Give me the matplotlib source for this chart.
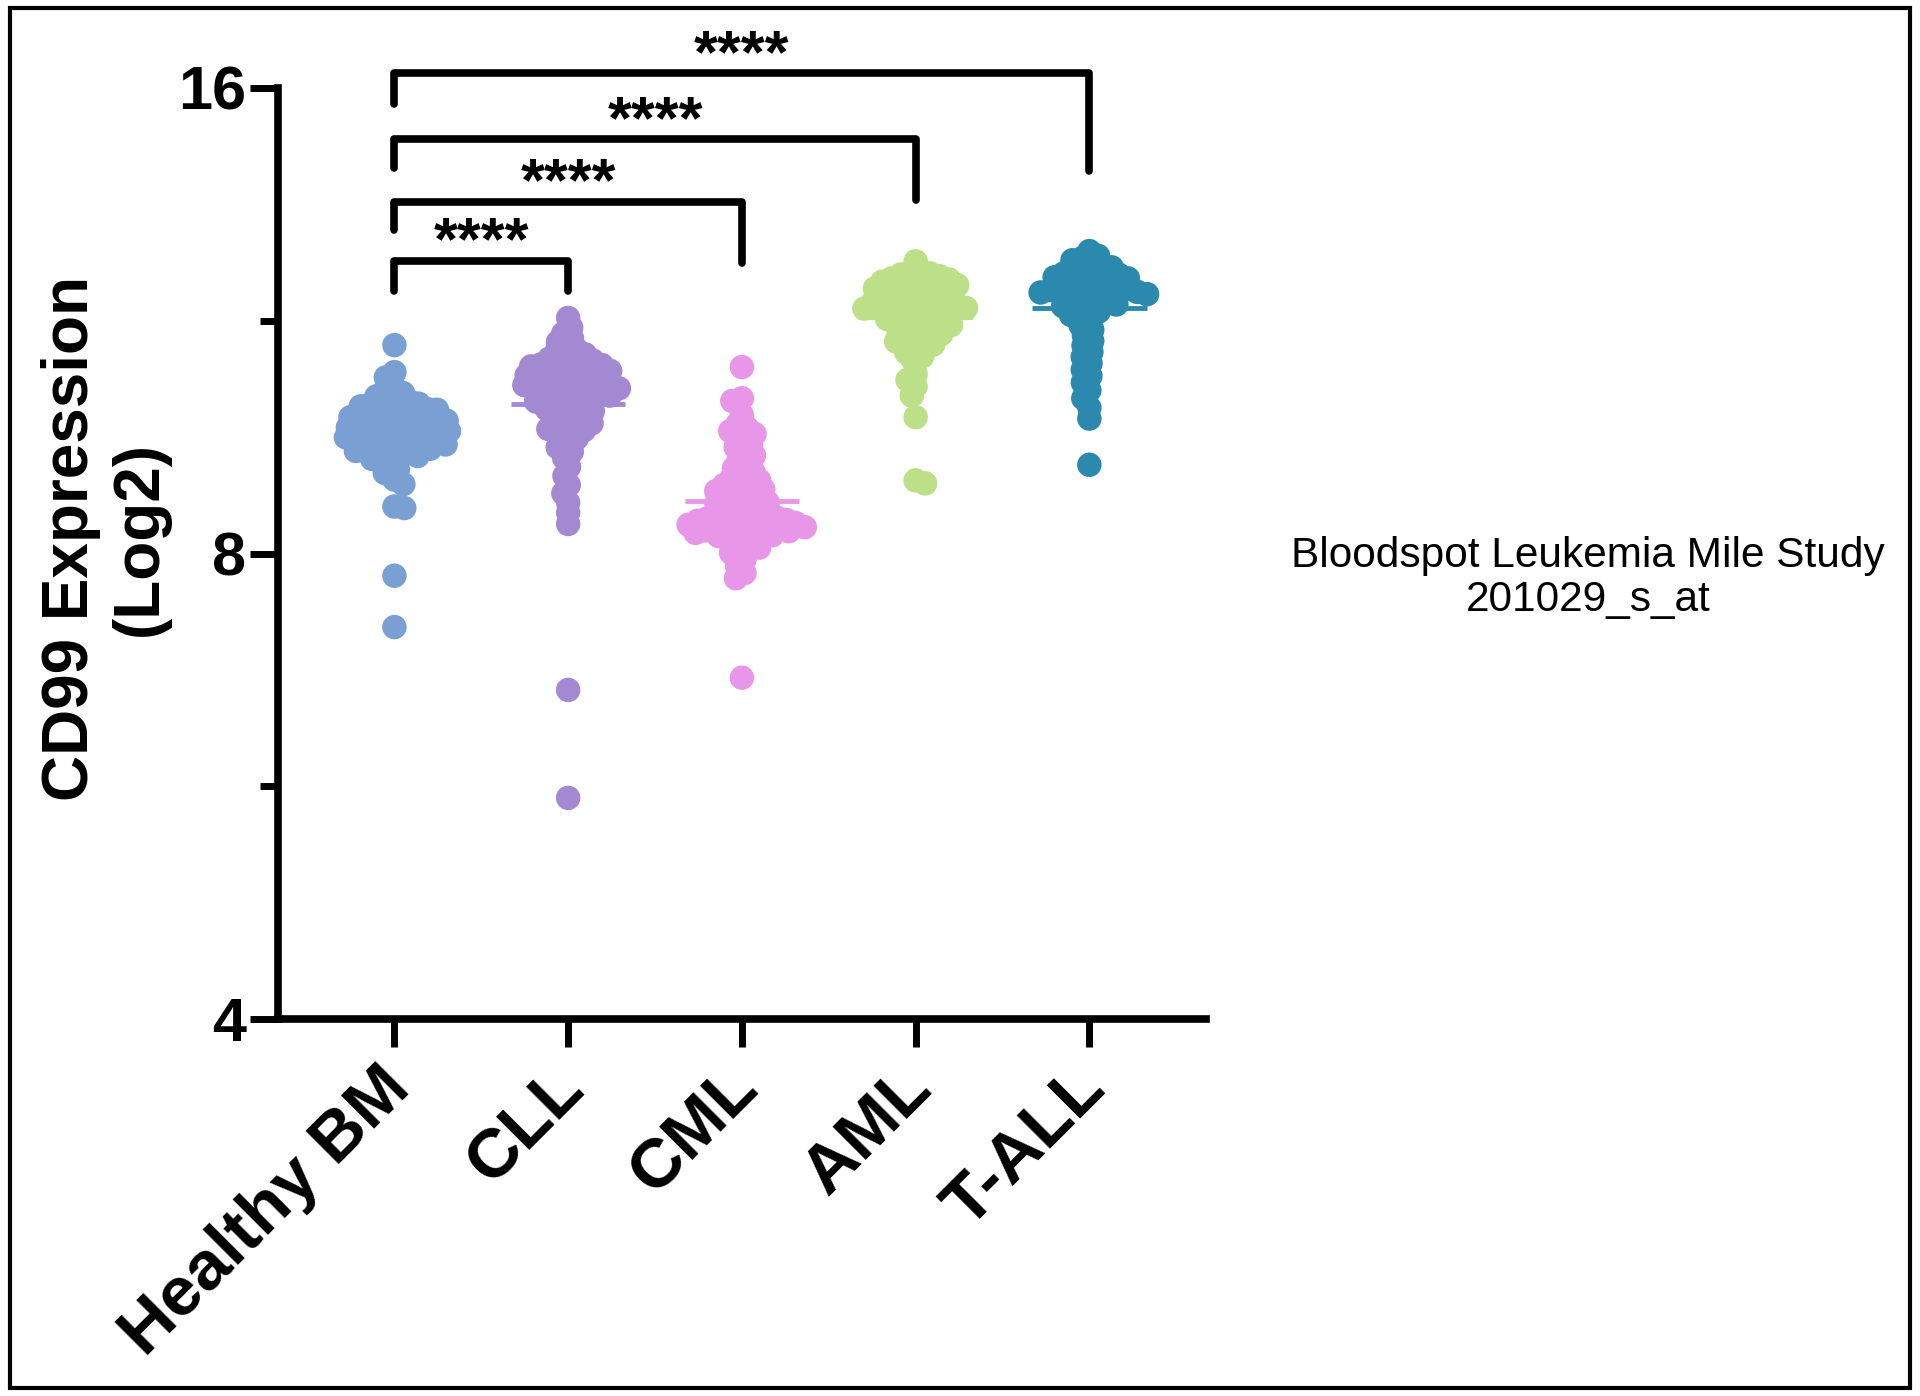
import numpy as np
import matplotlib
matplotlib.use("Agg")
import matplotlib.pyplot as plt
from matplotlib.patches import Rectangle
from matplotlib.ticker import FixedLocator, NullFormatter
from matplotlib.transforms import ScaledTranslation

plt.rcParams['font.family'] = ['Liberation Sans', 'DejaVu Sans']

# values (CD99, log2 axis)
categories = ["Healthy BM", "CLL", "CML", "AML", "T-ALL"]
colors = ["#7A9FD3", "#A389D1", "#E897E8", "#BCDF87", "#2B89AD"]

healthy_bm = [10.91, 10.48, 10.40,
              10.24, 10.19, 10.16, 10.11, 10.07,
              10.04, 10.02, 10.00, 9.99, 9.96, 9.94, 9.92, 9.91, 9.89, 9.87, 9.85,
              9.84, 9.83, 9.81, 9.80, 9.79, 9.77, 9.76, 9.75, 9.73, 9.72, 9.71,
              9.69, 9.68, 9.67, 9.65, 9.64, 9.63, 9.61, 9.60, 9.59, 9.57, 9.56,
              9.55, 9.53, 9.52, 9.51, 9.49, 9.48, 9.47,
              9.45, 9.44, 9.42, 9.41, 9.40, 9.38, 9.37, 9.35, 9.33, 9.32, 9.30,
              9.28, 9.25, 9.23, 9.21,
              9.14, 9.07, 9.02, 8.93, 8.87, 8.58, 8.56, 7.74, 7.17]

cll = [11.36, 11.20, 11.10, 11.02, 10.96,
       10.88, 10.84, 10.80, 10.76, 10.72, 10.69, 10.66,
       10.64, 10.62, 10.60, 10.59, 10.57, 10.55, 10.53, 10.52, 10.50, 10.48,
       10.46, 10.45, 10.43, 10.41, 10.39, 10.38, 10.36, 10.34, 10.32, 10.30,
       10.29, 10.28, 10.27, 10.26, 10.25, 10.23, 10.21, 10.20, 10.18, 10.16,
       10.14, 10.12, 10.10, 10.09, 10.07, 10.05, 10.03, 10.01,
       9.98, 9.95, 9.92, 9.89, 9.86, 9.83, 9.80, 9.77, 9.74, 9.71, 9.68,
       9.65, 9.63, 9.61,
       9.57, 9.50, 9.43, 9.37, 9.31,
       9.22, 9.10, 8.98, 8.86, 8.75, 8.63, 8.50, 8.36,
       6.53, 5.56]

cml = [10.56, 10.08, 10.04, 9.83,
       9.70, 9.65, 9.60, 9.56,
       9.48, 9.42, 9.37, 9.31, 9.26, 9.20, 9.14, 9.08, 9.03,
       8.98, 8.95, 8.92, 8.89, 8.86, 8.83, 8.80, 8.78, 8.76,
       8.73, 8.70, 8.68, 8.65, 8.63, 8.62, 8.60, 8.57, 8.55, 8.52, 8.50, 8.48,
       8.46, 8.45, 8.44, 8.43, 8.42, 8.41, 8.40, 8.39, 8.38, 8.37, 8.36,
       8.35, 8.34, 8.33, 8.32, 8.31, 8.30, 8.29, 8.28, 8.27, 8.26, 8.25,
       8.24, 8.22, 8.21,
       8.18, 8.14, 8.10, 8.07, 8.04, 8.01,
       7.93, 7.85, 7.77, 7.71,
       6.65]

aml = [12.36,
       12.20, 12.16, 12.14, 12.12, 12.09,
       12.05, 12.03, 12.01, 11.99, 11.97, 11.95, 11.93, 11.91, 11.89, 11.87,
       11.85, 11.83, 11.81, 11.79, 11.77,
       11.74, 11.72, 11.70, 11.68, 11.66, 11.64, 11.62, 11.60, 11.58, 11.56,
       11.55, 11.54, 11.53, 11.52, 11.50, 11.48, 11.46, 11.44, 11.42,
       11.39, 11.36, 11.34, 11.31, 11.29, 11.26, 11.24, 11.21,
       11.18, 11.15, 11.12, 11.09, 11.06, 11.03, 11.00, 10.97,
       10.92, 10.85, 10.79, 10.73, 10.67,
       10.45, 10.36, 10.26, 10.12, 9.80,
       8.92, 8.88]

t_all = [12.55,
         12.46, 12.42, 12.38, 12.33, 12.29, 12.25,
         12.21, 12.19, 12.16, 12.14, 12.12, 12.09, 12.07, 12.05, 12.02, 12.00,
         11.98, 11.95, 11.93, 11.91, 11.88, 11.86, 11.85, 11.84, 11.82, 11.81,
         11.80, 11.79, 11.77,
         11.74, 11.71, 11.68, 11.65, 11.62, 11.59, 11.56, 11.53, 11.50, 11.47,
         11.41, 11.32, 11.24, 11.16,
         11.07, 10.98, 10.90, 10.80, 10.72, 10.62, 10.52, 10.42, 10.32, 10.20,
         10.08, 9.94, 9.78,
         9.13]

groups = [healthy_bm, cll, cml, aml, t_all]

# comparisons vs Healthy BM: (other group, bracket height, left leg end, right leg end)
comparisons = [(1, 12.37, 11.82, 11.82),
               (2, 13.50, 12.95, 12.33),
               (3, 14.82, 14.21, 13.55),
               (4, 16.35, 15.63, 14.13)]
sig_label = "****"


def swarm_offsets(vals, xscale, yscale, sep):
    # simple beeswarm in pixel space, points may overlap (sep < marker size)
    y = np.log2(np.asarray(vals, dtype=float)) * yscale
    xs = np.zeros(len(y))
    placed = []
    flip = 1
    for i in np.argsort(y)[::-1]:
        yi = y[i]
        near = [(px, py) for px, py in placed if abs(py - yi) < sep]
        cands = [0.0]
        for px, py in near:
            dx = np.sqrt(sep ** 2 - (py - yi) ** 2)
            cands += [px - dx, px + dx]
        cands.sort(key=lambda c: (round(abs(c), 4), flip * c))
        for c in cands:
            if all((c - px) ** 2 + (yi - py) ** 2 >= sep ** 2 - 1e-6 for px, py in near):
                xs[i] = c
                break
        flip = -flip
        placed.append((xs[i], yi))
    return xs / xscale


fig = plt.figure(figsize=(19.2, 13.96), dpi=100)
ax = fig.add_axes([0.1448, 0.27, 0.628 - 0.1448, 0.937 - 0.27])

ax.set_yscale("log", base=2)
ax.set_ylim(4, 16)
ax.set_xlim(-0.67, 4.67)

fig.canvas.draw()
W, H = fig.get_size_inches() * fig.dpi
ax_w = ax.get_position().width * W
ax_h = ax.get_position().height * H
xscale = ax_w / (4.67 + 0.67)
yscale = ax_h / 2.0

for i, (vals, col) in enumerate(zip(groups, colors)):
    offs = swarm_offsets(vals, xscale, yscale, sep=10)
    center = np.mean(vals)
    ax.hlines(center, i - 0.33, i + 0.33, color=col, lw=3.5, zorder=2)
    ax.scatter(i + offs, vals, s=310, color=col, edgecolors="none", zorder=3, clip_on=False)

# significance brackets
for j, top, lo_left, lo_right in comparisons:
    ax.plot([0, 0, j, j], [lo_left, top, top, lo_right], color="black", lw=5.5,
            solid_joinstyle="round", solid_capstyle="round", clip_on=False, zorder=4)
    ax.annotate(sig_label, xy=(j / 2, top), xytext=(0, 1), textcoords="offset points",
                ha="center", va="baseline", fontsize=44, fontweight="bold",
                annotation_clip=False)

# axes styling
for side in ["top", "right"]:
    ax.spines[side].set_visible(False)
for side in ["left", "bottom"]:
    ax.spines[side].set_linewidth(5.5)
    ax.spines[side].set_capstyle("projecting")

ax.yaxis.set_major_locator(FixedLocator([4, 8, 16]))
ax.yaxis.set_minor_locator(FixedLocator([2 ** 2.5, 2 ** 3.5]))
ax.yaxis.set_minor_formatter(NullFormatter())
ax.set_yticklabels(["4", "8", "16"], fontsize=44, fontweight="bold")
ax.tick_params(axis="y", which="major", length=20, width=5, pad=3)
ax.tick_params(axis="y", which="minor", length=13, width=5)

ax.set_xticks(range(len(categories)))
ax.set_xticklabels(categories, fontsize=50, fontweight="bold", rotation=45,
                   ha="right", va="top", rotation_mode="anchor")
ax.tick_params(axis="x", length=20, width=5, pad=6)
for lab in ax.get_xticklabels():
    lab.set_transform(lab.get_transform() + ScaledTranslation(-0.17, 0, fig.dpi_scale_trans))

fig.text(0.055, 0.614, "CD99 Expression\n(Log2)", rotation=90, ha="center", va="center",
         multialignment="center", fontsize=46, fontweight="bold", linespacing=1.2)

fig.text(0.827, 0.586, "Bloodspot Leukemia Mile Study\n201029_s_at", ha="center",
         va="center", multialignment="center", fontsize=30.5, linespacing=1.15)

# outer frame
fig.patches.append(Rectangle((0.005, 0.006), 0.99, 0.988, transform=fig.transFigure,
                             fill=False, edgecolor="black", lw=3))

fig.savefig("out.png", dpi=100)
